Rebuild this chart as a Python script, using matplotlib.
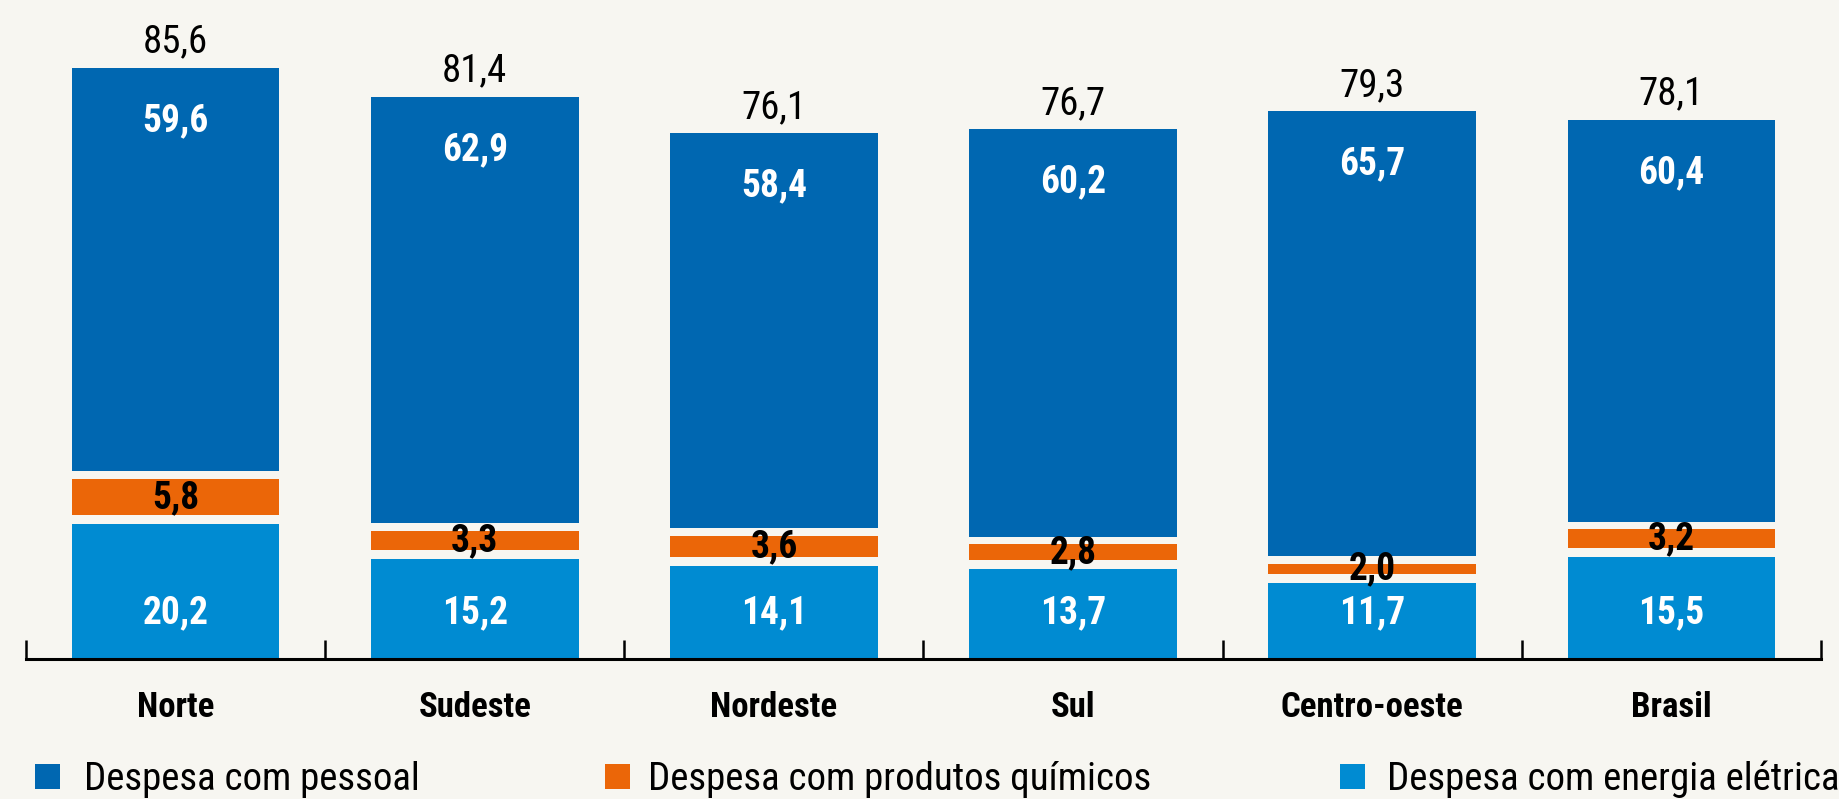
import matplotlib
matplotlib.use("Agg")
import matplotlib.pyplot as plt
from matplotlib import font_manager
from matplotlib.patches import Rectangle

# Regions and expense shares (%)
regioes = ["Norte", "Sudeste", "Nordeste", "Sul", "Centro-oeste", "Brasil"]
energia = [20.2, 15.2, 14.1, 13.7, 11.7, 15.5]
quimicos = [5.8, 3.3, 3.6, 2.8, 2.0, 3.2]
pessoal = [59.6, 62.9, 58.4, 60.2, 65.7, 60.4]
totais = [85.6, 81.4, 76.1, 76.7, 79.3, 78.1]

series_nomes = ["Despesa com pessoal", "Despesa com produtos químicos",
                "Despesa com energia elétrica"]

COR_PESSOAL = "#0067B1"
COR_QUIM = "#EB6608"
COR_ENERGIA = "#008BD2"
FUNDO = "#F7F6F1"

# condensed sans-serif, first one installed
available = {f.name for f in font_manager.fontManager.ttflist}
FAM = None
for cand in ["Liberation Sans Narrow", "Arial Narrow", "Roboto Condensed",
             "PT Sans Narrow", "Archivo Narrow"]:
    if cand in available:
        FAM = cand
        break
if FAM is None:
    FAM = "Liberation Sans"
plt.rcParams["font.family"] = [FAM, "DejaVu Sans"]

s_tot, s_lab, s_cat, s_leg = 28, 27, 25, 28


def fmt(v):
    return f"{v:.1f}".replace(".", ",")


fig = plt.figure(figsize=(18.39, 7.99), dpi=100, facecolor=FUNDO)
W, H = 1839, 799
AX_Y = 659
ax = fig.add_axes([26 / W, (H - AX_Y) / H, (1821 - 26) / W, AX_Y / H])
ax.set_facecolor(FUNDO)
ax.set_xlim(-0.5, len(regioes) - 0.5)
ax.set_ylim(0, 95.4)

bw = 0.694
for i in range(len(regioes)):
    e, q, p, t = energia[i], quimicos[i], pessoal[i], totais[i]
    # stacked segments separated by small gaps
    ax.bar(i, e - 0.7, bottom=0, width=bw, color=COR_ENERGIA, zorder=2)
    ax.bar(i, q - 0.5, bottom=e + 0.6, width=bw, color=COR_QUIM, zorder=2)
    ax.bar(i, t - (e + q + 1.2), bottom=e + q + 1.2, width=bw,
           color=COR_PESSOAL, zorder=2)

    ax.annotate(fmt(t), (i, t), xytext=(0, 11), textcoords="offset points",
                ha="center", va="baseline", fontsize=s_tot, color="black")
    ax.annotate(fmt(p), (i, t), xytext=(0, -38), textcoords="offset points",
                ha="center", va="center", fontsize=s_lab, fontweight="bold",
                color="white", zorder=3)
    ax.annotate(fmt(e), (i, 0), xytext=(0, 33), textcoords="offset points",
                ha="center", va="center", fontsize=s_lab, fontweight="bold",
                color="white", zorder=3)
    ax.text(i, e + q / 2 + 0.3, fmt(q), ha="center", va="center",
            fontsize=s_lab, fontweight="bold", color="black", zorder=3)
    ax.annotate(regioes[i], (i, 0), xytext=(0, -41.5),
                textcoords="offset points", ha="center", va="baseline",
                fontsize=s_cat, fontweight="bold", color="black",
                annotation_clip=False)

for s in ["top", "right", "left"]:
    ax.spines[s].set_visible(False)
ax.spines["bottom"].set_linewidth(2.2)
ax.spines["bottom"].set_color("black")
ax.set_yticks([])
ax.set_xticks([k - 0.5 for k in range(len(regioes) + 1)])
ax.set_xticklabels([])
ax.tick_params(axis="x", direction="in", length=14, width=1.8, color="black")

# legend row
leg_cores = [COR_PESSOAL, COR_QUIM, COR_ENERGIA]
leg_mark_x = [47.5, 617, 1352]
leg_text_x = [84, 648, 1387]
leg_mark_y = 776.5
leg_base_y = 790.5
for c, nome, mx, tx in zip(leg_cores, series_nomes, leg_mark_x, leg_text_x):
    fig.patches.append(Rectangle(((mx - 12.5) / W, (H - leg_mark_y - 12.5) / H),
                                 25 / W, 25 / H, transform=fig.transFigure,
                                 facecolor=c, edgecolor="none"))
    fig.text(tx / W, (H - leg_base_y) / H, nome, ha="left", va="baseline",
             fontsize=s_leg, color="black")

fig.savefig("out.png", dpi=100, facecolor=FUNDO)
